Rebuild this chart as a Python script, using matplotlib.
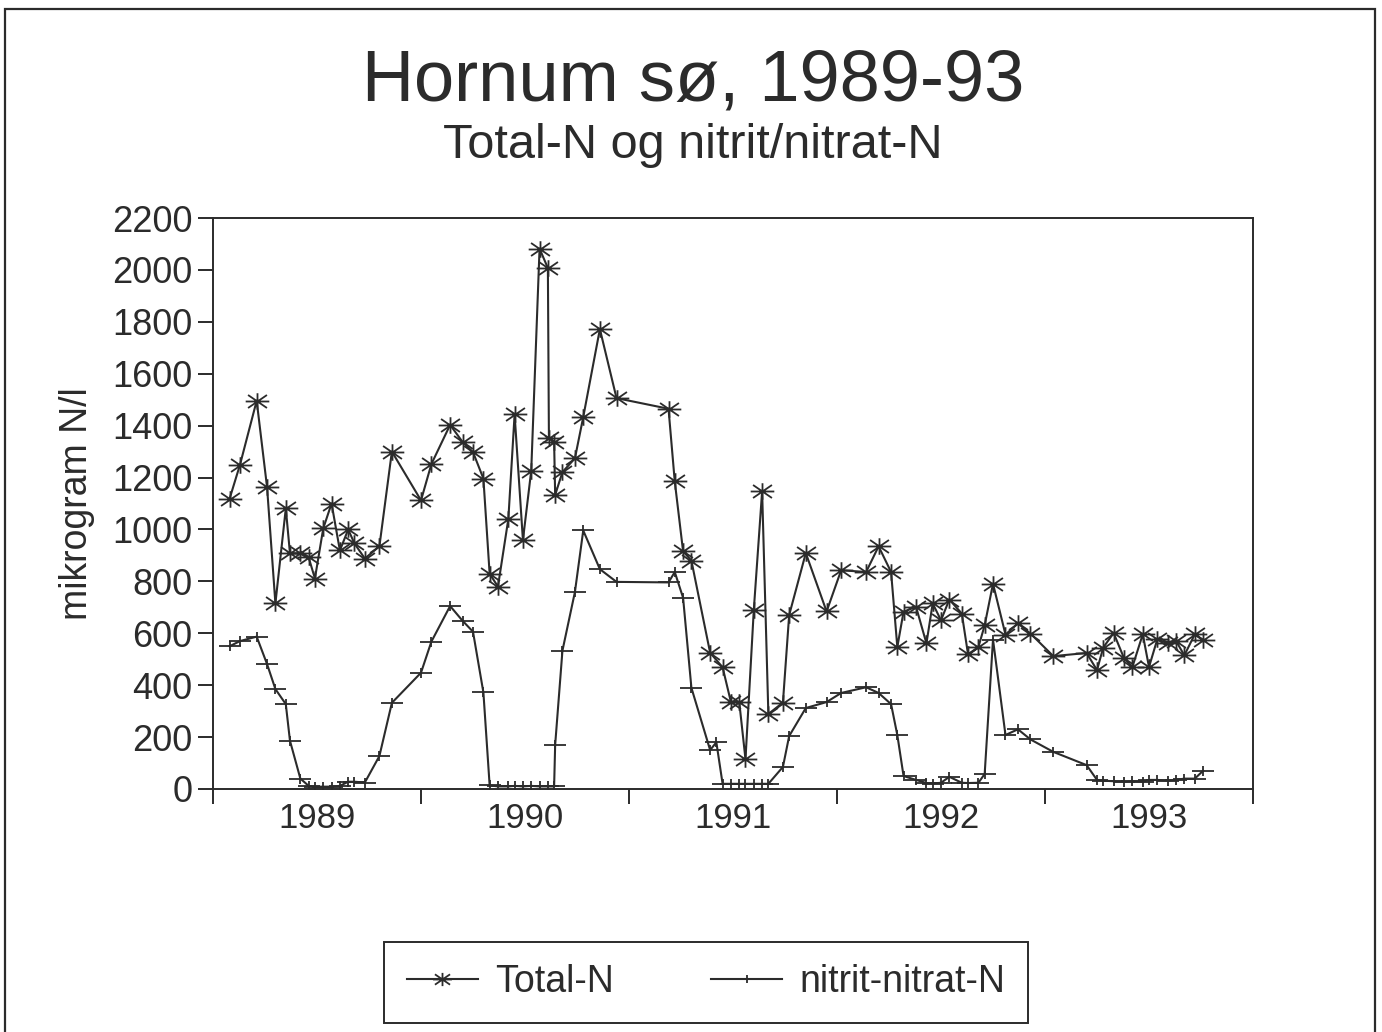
import matplotlib
matplotlib.use("Agg")
import matplotlib.pyplot as plt
from matplotlib.path import Path
from matplotlib.patches import Rectangle

# Hornum sø, total-N and nitrite/nitrate-N (mikrogram N/l), dates as decimal years
tn_dates = [1989.08, 1989.13, 1989.21, 1989.26, 1989.30, 1989.35, 1989.37, 1989.42,
            1989.46, 1989.49, 1989.53, 1989.57, 1989.61, 1989.65, 1989.68, 1989.73,
            1989.80, 1989.86, 1990.00, 1990.05, 1990.14, 1990.20, 1990.25, 1990.30,
            1990.33, 1990.37, 1990.42, 1990.45, 1990.49, 1990.53, 1990.57, 1990.61,
            1990.615, 1990.64, 1990.645, 1990.68, 1990.74, 1990.78, 1990.86, 1990.94,
            1991.19, 1991.22, 1991.26, 1991.30, 1991.39, 1991.45, 1991.49, 1991.53,
            1991.56, 1991.60, 1991.64, 1991.67, 1991.74, 1991.77, 1991.85, 1991.95,
            1992.02, 1992.14, 1992.20, 1992.26, 1992.29, 1992.32, 1992.38, 1992.43,
            1992.46, 1992.50, 1992.54, 1992.60, 1992.63, 1992.68, 1992.71, 1992.75,
            1992.81, 1992.87, 1992.93, 1993.04, 1993.20, 1993.25, 1993.28, 1993.33,
            1993.38, 1993.42, 1993.47, 1993.50, 1993.54, 1993.59, 1993.63, 1993.67,
            1993.72, 1993.76]
tn_values = [1119, 1250, 1496, 1162, 715, 1081, 908, 908,
             892, 811, 1004, 1100, 919, 1000, 946, 888,
             935, 1300, 1112, 1252, 1403, 1337, 1298, 1196,
             829, 780, 1041, 1443, 959, 1227, 2082, 2007,
             1354, 1337, 1133, 1221, 1274, 1433, 1772, 1506,
             1465, 1185, 916, 880, 525, 469, 335, 335,
             115, 690, 1147, 289, 333, 670, 909, 684,
             843, 836, 935, 836, 547, 683, 702, 561,
             715, 650, 730, 676, 519, 547, 631, 791,
             595, 638, 599, 512, 524, 458, 545, 601,
             504, 470, 596, 470, 577, 561, 570, 515,
             596, 573]

nn_dates = [1989.08, 1989.13, 1989.21, 1989.26, 1989.30, 1989.35, 1989.37, 1989.42,
            1989.46, 1989.49, 1989.53, 1989.57, 1989.61, 1989.65, 1989.68, 1989.73,
            1989.80, 1989.86, 1990.00, 1990.05, 1990.14, 1990.20, 1990.25, 1990.30,
            1990.33, 1990.37, 1990.42, 1990.45, 1990.49, 1990.53, 1990.57, 1990.61,
            1990.64, 1990.645, 1990.68, 1990.74, 1990.78, 1990.86, 1990.94,
            1991.19, 1991.22, 1991.26, 1991.30, 1991.39, 1991.42, 1991.45, 1991.49,
            1991.53, 1991.56, 1991.60, 1991.64, 1991.67, 1991.74, 1991.77, 1991.85,
            1991.95, 1992.02, 1992.14, 1992.20, 1992.26, 1992.29, 1992.32, 1992.38,
            1992.43, 1992.46, 1992.50, 1992.54, 1992.60, 1992.63, 1992.68, 1992.71,
            1992.75, 1992.81, 1992.87, 1992.93, 1993.04, 1993.20, 1993.25, 1993.28,
            1993.33, 1993.38, 1993.42, 1993.47, 1993.50, 1993.54, 1993.59, 1993.63,
            1993.67, 1993.72, 1993.76]
nn_values = [550, 570, 587, 481, 385, 327, 186, 40,
             12, 9, 9, 9, 12, 28, 28, 25,
             127, 332, 448, 568, 705, 648, 606, 372,
             14, 10, 10, 12, 10, 12, 10, 10,
             10, 170, 533, 759, 996, 847, 798,
             796, 836, 737, 390, 150, 180, 20, 20,
             20, 20, 20, 20, 20, 85, 204, 312,
             335, 370, 392, 370, 327, 208, 50, 35,
             23, 21, 24, 47, 24, 23, 24, 58,
             576, 208, 230, 191, 143, 92, 35, 32,
             30, 28, 30, 28, 35, 35, 32, 35,
             40, 40, 70]

years = [1989, 1990, 1991, 1992, 1993]
y_ticks = list(range(0, 2201, 200))

ink = "#2b2b2b"
plt.rcParams["font.family"] = ["Liberation Sans", "DejaVu Sans"]
plt.rcParams["text.color"] = ink

# asterisk and plus shaped markers like the old plotter output
star = Path([(-1, 0), (1, 0), (-0.8, -0.55), (0.8, 0.55), (-0.8, 0.55), (0.8, -0.55),
             (0, -0.7), (0, 0.7)],
            [Path.MOVETO, Path.LINETO] * 4)
cross = Path([(-1, 0), (1, 0), (0, -0.45), (0, 0.45)],
             [Path.MOVETO, Path.LINETO] * 2)

fig = plt.figure(figsize=(13.82, 10.32), dpi=100)
ax = fig.add_axes([213 / 1382, 1 - 789 / 1032, 1040 / 1382, 571 / 1032])

ax.plot(tn_dates, tn_values, color=ink, lw=1.5, marker=star, ms=17, mew=1.3,
        mec=ink, label="Total-N")
ax.plot(nn_dates, nn_values, color=ink, lw=1.5, marker=cross, ms=16, mew=1.3,
        mec=ink, label="nitrit-nitrat-N")

ax.set_xlim(1989, 1994)
ax.set_ylim(0, 2200)
ax.set_yticks(y_ticks)
ax.set_yticklabels([str(v) for v in y_ticks])
ax.set_xticks([y for y in years] + [1994])
ax.set_xticklabels([])
ax.set_xticks([y + 0.5 for y in years], minor=True)
ax.set_xticklabels([str(y) for y in years], minor=True)
ax.tick_params(axis="x", which="major", direction="out", length=11, width=1.4, color=ink)
ax.tick_params(axis="x", which="minor", length=0, pad=9, labelsize=25, labelcolor=ink)
ax.tick_params(axis="y", direction="out", length=11, width=1.4, color=ink,
               pad=4, labelsize=26, labelcolor=ink)
for s in ax.spines.values():
    s.set_color(ink)
    s.set_linewidth(1.4)

ax.set_ylabel("mikrogram N/l", fontsize=27, color=ink, labelpad=12)

fig.text(693 / 1382, 1 - 100 / 1032, "Hornum sø, 1989-93", fontsize=52,
         ha="center", va="baseline", color=ink)
fig.text(693 / 1382, 1 - 158 / 1032, "Total-N og nitrit/nitrat-N", fontsize=35,
         ha="center", va="baseline", color=ink)

leg = fig.legend(loc="center", bbox_to_anchor=(706 / 1382, 1 - 982 / 1032), ncol=2,
                 fontsize=27, frameon=True, fancybox=False, handlelength=1.9,
                 handletextpad=0.45, columnspacing=2.6, borderpad=0.6,
                 markerscale=0.8)
leg.get_frame().set_edgecolor(ink)
leg.get_frame().set_linewidth(1.4)
leg.get_frame().set_alpha(1)
for t in leg.get_texts():
    t.set_color(ink)

# page border of the scanned sheet
fig.patches.append(Rectangle((5 / 1382, -0.05), 1370 / 1382, 1.05 - 9 / 1032,
                             transform=fig.transFigure, fill=False, ec=ink, lw=1.6))

fig.savefig("out.png", dpi=100)
